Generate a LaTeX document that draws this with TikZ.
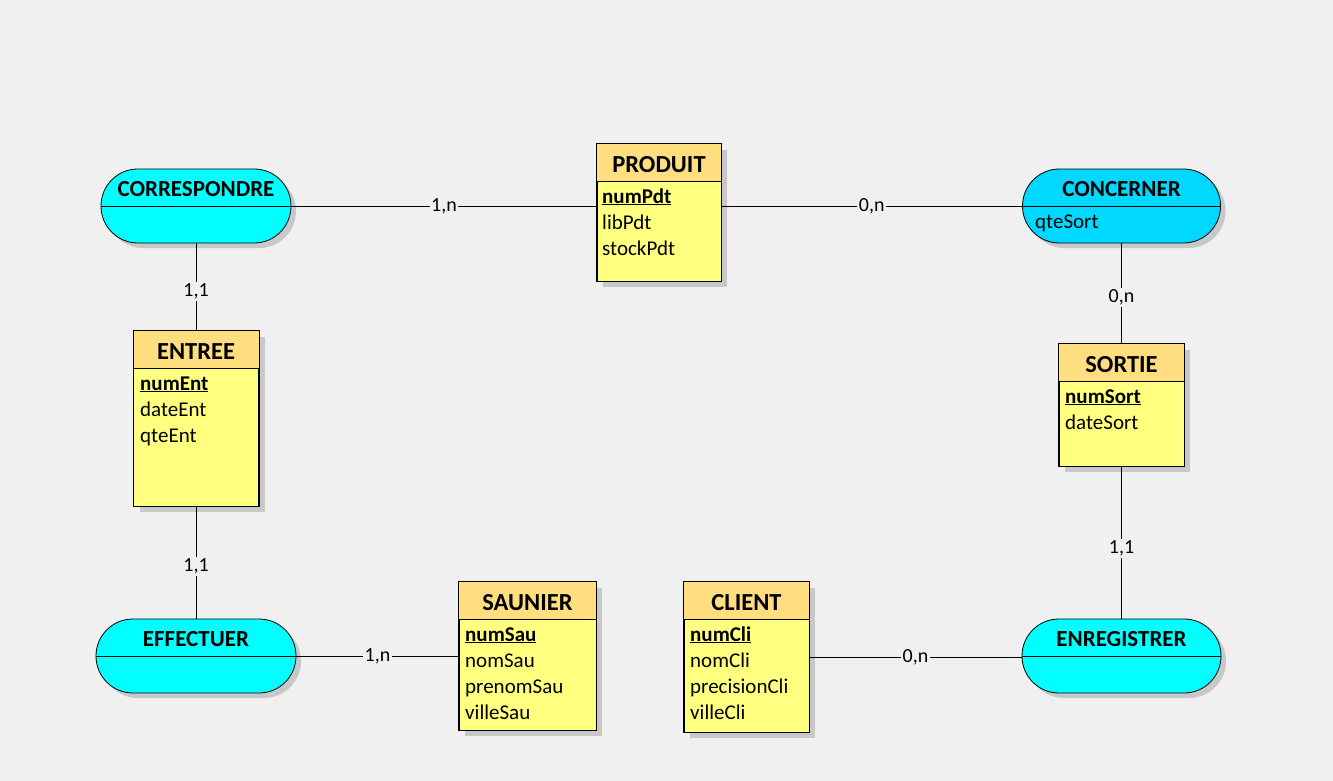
\documentclass[tikz,border=0pt]{standalone}
\usepackage{fontspec}
\setmainfont{Carlito}
\usetikzlibrary{shadows}
\definecolor{bgc}{RGB}{240,240,240}
\definecolor{headc}{RGB}{255,222,128}
\definecolor{bodyc}{RGB}{255,255,128}
\definecolor{assocc}{RGB}{0,255,255}
\definecolor{assocsel}{RGB}{0,216,255}
\definecolor{shadc}{RGB}{200,200,200}
\newcommand\enthead[1]{%
  \fill[headc] (#1.north west) rectangle ([yshift=-38pt]#1.north east);
  \draw[line width=0.8pt] ([yshift=-38pt]#1.north west) -- ([yshift=-38pt]#1.north east);
  \draw[line width=0.8pt] (#1.north west) rectangle (#1.south east);}
\begin{document}
\begin{tikzpicture}[x=1pt,y=-1pt,
  entity/.style={draw=black, line width=0.8pt, fill=bodyc, rectangle, inner sep=0pt,
    drop shadow={shadow xshift=6pt, shadow yshift=-6pt, fill=shadc, opacity=1}},
  assocbox/.style={draw=black, line width=0.8pt, fill=assocc, rectangle, rounded corners=36.9pt,
    inner sep=0pt, minimum height=74pt,
    drop shadow={shadow xshift=5pt, shadow yshift=-5pt, fill=shadc, opacity=1}},
  etitle/.style={font=\fontsize{24.5}{29}\selectfont\bfseries, inner sep=0pt},
  atitle/.style={font=\fontsize{23}{27}\selectfont\bfseries, inner sep=0pt},
  attr/.style={font=\fontsize{21}{25}\selectfont, anchor=west, inner sep=0pt, text height=19pt, text depth=5pt},
  card/.style={font=\fontsize{20}{24}\selectfont, fill=bgc, inner sep=1.5pt, text height=13pt, text depth=3pt},
  conn/.style={draw=black, line width=0.8pt}
]
\useasboundingbox (0,0) rectangle (1333,781);
\fill[bgc] (0,0) rectangle (1333,781);

% associations
\node[assocbox, minimum width=190pt] (corr) at (196,206) {};
\draw[line width=0.8pt] (corr.west) -- (corr.east);
\node[atitle] (corrT) at ([yshift=17pt]corr.center) {CORRESPONDRE};

\node[assocbox, fill=assocsel, minimum width=198pt] (conc) at (1121.5,206) {};
\draw[line width=0.8pt] (conc.west) -- (conc.east);
\node[atitle] (concT) at ([yshift=17pt]conc.center) {CONCERNER};
\node[attr] (concA) at (1035,221) {qteSort};

\node[assocbox, minimum width=200pt] (effe) at (196,656) {};
\draw[line width=0.8pt] (effe.west) -- (effe.east);
\node[atitle] (effeT) at ([yshift=17pt]effe.center) {EFFECTUER};

\node[assocbox, minimum width=199pt] (enre) at (1121.5,656) {};
\draw[line width=0.8pt] (enre.west) -- (enre.east);
\node[atitle] (enreT) at ([yshift=17pt]enre.center) {ENREGISTRER};

% entities
\node[entity, minimum width=124pt, minimum height=137pt] (prod) at (659,212.5) {};
\enthead{prod}
\node[etitle] (prodT) at ([yshift=-20.5pt]prod.north) {PRODUIT};
\node[attr] (prodA) at (602,196) {\textbf{\underline{numPdt}}};
\node[attr] (prodB) at (602,222) {libPdt};
\node[attr] (prodC) at (602,248) {stockPdt};

\node[entity, minimum width=125pt, minimum height=175pt] (entree) at (196,418.5) {};
\enthead{entree}
\node[etitle] (entreeT) at ([yshift=-20.5pt]entree.north) {ENTREE};
\node[attr] (entreeA) at (140,383) {\textbf{\underline{numEnt}}};
\node[attr] (entreeB) at (140,409) {dateEnt};
\node[attr] (entreeC) at (140,435) {qteEnt};

\node[entity, minimum width=125pt, minimum height=122pt] (sortie) at (1121.5,405) {};
\enthead{sortie}
\node[etitle] (sortieT) at ([yshift=-20.5pt]sortie.north) {SORTIE};
\node[attr] (sortieA) at (1065,396) {\textbf{\underline{numSort}}};
\node[attr] (sortieB) at (1065,422) {dateSort};

\node[entity, minimum width=137pt, minimum height=148pt] (saun) at (527.5,656) {};
\enthead{saun}
\node[etitle] (saunT) at ([yshift=-20.5pt]saun.north) {SAUNIER};
\node[attr] (saunA) at (465,634) {\textbf{\underline{numSau}}};
\node[attr] (saunB) at (465,660) {nomSau};
\node[attr] (saunC) at (465,686) {prenomSau};
\node[attr] (saunD) at (465,712) {villeSau};

\node[entity, minimum width=125pt, minimum height=150pt] (client) at (746.5,657) {};
\enthead{client}
\node[etitle] (clientT) at ([yshift=-20.5pt]client.north) {CLIENT};
\node[attr] (clientA) at (690,634) {\textbf{\underline{numCli}}};
\node[attr] (clientB) at (690,660) {nomCli};
\node[attr] (clientC) at (690,686) {precisionCli};
\node[attr] (clientD) at (690,712) {villeCli};

% connectors
\draw[conn] (corr.east) -- node[card]{1,n} (corr.east -| prod.west);
\draw[conn] (prod.east |- conc.west) -- node[card]{0,n} (conc.west);
\draw[conn] (corr) -- node[card, pos=0.55]{1,1} (entree);
\draw[conn] (conc) -- node[card, pos=0.54]{0,n} (sortie);
\draw[conn] (entree) -- node[card, pos=0.54]{1,1} (effe);
\draw[conn] (sortie) -- node[card, pos=0.54]{1,1} (enre);
\draw[conn] (effe) -- node[card]{1,n} (saun);
\draw[conn] (client.east) -- node[card]{0,n} (client.east -| enre.west);
\end{tikzpicture}
\end{document}
